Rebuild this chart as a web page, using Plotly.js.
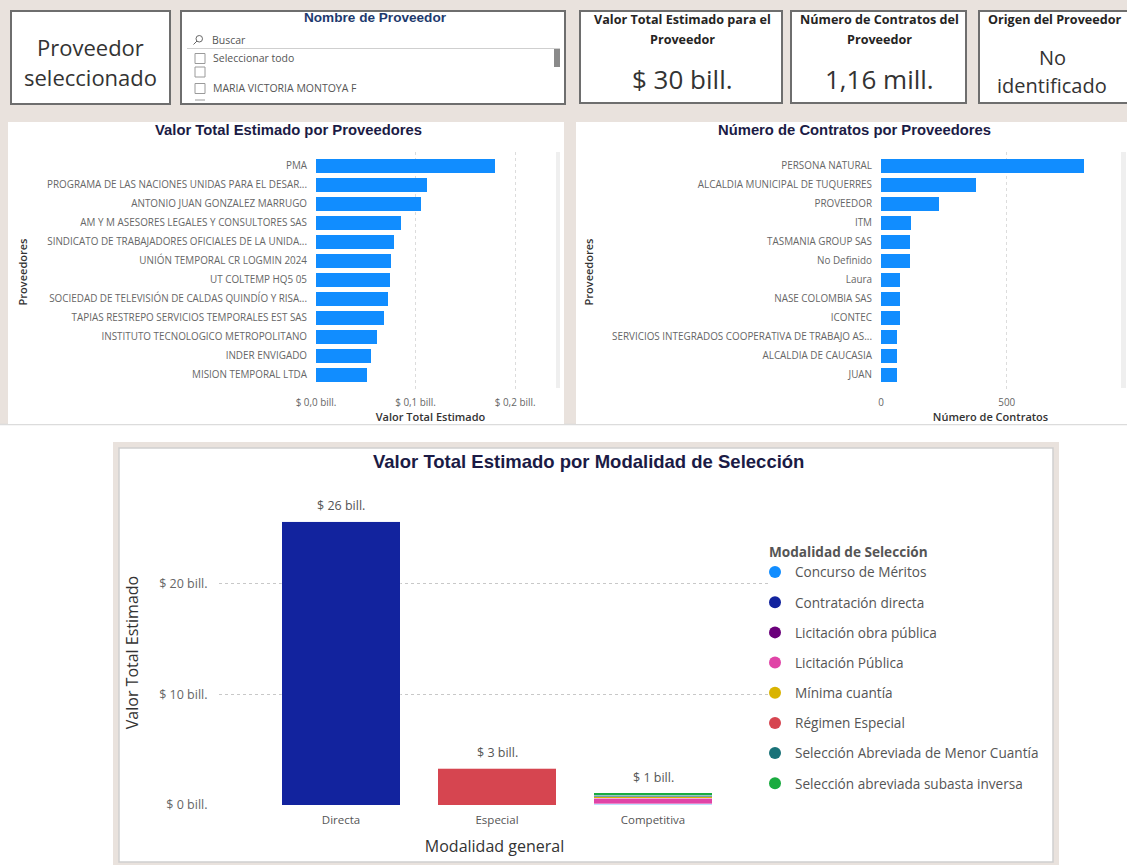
<!DOCTYPE html>
<html>
<head>
<meta charset="utf-8">
<script src="https://cdn.plot.ly/plotly-3.0.1.min.js"></script>
<style>html,body{margin:0;padding:0;background:#fff;}#chart{width:1127px;height:865px;}</style>
</head>
<body>
<div id="chart"></div>
<script>
// ---------------- DATA ----------------
const proveedoresValor = ['PMA', 'PROGRAMA DE LAS NACIONES UNIDAS PARA EL DESAR...', 'ANTONIO JUAN GONZALEZ MARRUGO',
  'AM Y M ASESORES LEGALES Y CONSULTORES SAS', 'SINDICATO DE TRABAJADORES OFICIALES DE LA UNIDA...',
  'UNIÓN TEMPORAL CR LOGMIN 2024', 'UT COLTEMP HQ5 05', 'SOCIEDAD DE TELEVISIÓN DE CALDAS QUINDÍO Y RISA...',
  'TAPIAS RESTREPO SERVICIOS TEMPORALES EST SAS', 'INSTITUTO TECNOLOGICO METROPOLITANO', 'INDER ENVIGADO', 'MISION TEMPORAL LTDA'];
const valorTotalBill = [0.180, 0.111, 0.105, 0.085, 0.078, 0.075, 0.074, 0.072, 0.068, 0.061, 0.055, 0.051];

const proveedoresContratos = ['PERSONA NATURAL', 'ALCALDIA MUNICIPAL DE TUQUERRES', 'PROVEEDOR', 'ITM', 'TASMANIA GROUP SAS',
  'No Definido', 'Laura', 'NASE COLOMBIA SAS', 'ICONTEC', 'SERVICIOS INTEGRADOS COOPERATIVA DE TRABAJO AS...',
  'ALCALDIA DE CAUCASIA', 'JUAN'];
const numeroContratos = [808, 379, 232, 119, 116, 115, 76, 75, 74, 64, 63, 63];

const modalidadGeneral = ['Directa', 'Especial', 'Competitiva'];
const modalidadesSeleccion = ['Concurso de Méritos', 'Contratación directa', 'Licitación obra pública', 'Licitación Pública',
  'Mínima cuantía', 'Régimen Especial', 'Selección Abreviada de Menor Cuantía', 'Selección abreviada subasta inversa'];
const concursoMeritos   = [0, 0, 0.08];
const contratacionDirecta = [25.7, 0, 0];
const licitacionObra    = [0, 0, 0.03];
const licitacionPublica = [0, 0, 0.48];
const minimaCuantia     = [0, 0, 0.16];
const regimenEspecial   = [0, 3.32, 0];
const seleccionMenor    = [0, 0, 0.12];
const subastaInversa    = [0, 0, 0.23];
const coloresModalidad = ['#118DFF', '#12239E', '#6B007B', '#E044A7', '#D9B300', '#D64550', '#197278', '#1AAB40'];

const numeroContratosProveedorMill = 1.16;
const origenProveedor = 'No identificado';

// ---------------- HELPERS ----------------
const W = 1127, H = 865;
const X = p => p / W;
const Y = p => 1 - p / H;
const SEG = '"Open Sans", "Noto Sans", sans-serif';
const ARB = '"Liberation Sans", Arial, sans-serif';
const BEIGE = '#E9E2DD';

function rect(x0, y0, x1, y1, fill, lineColor, lw) {
  return {type: 'rect', xref: 'paper', yref: 'paper', x0: X(x0), x1: X(x1), y0: Y(y1), y1: Y(y0),
    fillcolor: fill, line: {color: lineColor || 'rgba(0,0,0,0)', width: lw || 0}, layer: 'below'};
}
function line(x0, y0, x1, y1, color, lw) {
  return {type: 'line', xref: 'paper', yref: 'paper', x0: X(x0), x1: X(x1), y0: Y(y0), y1: Y(y1),
    line: {color: color, width: lw}, layer: 'below'};
}
function txt(x, y, text, size, color, opt) {
  opt = opt || {};
  return {xref: 'paper', yref: 'paper', x: X(x), y: Y(y), text: text, showarrow: false,
    xanchor: opt.xanchor || 'center', yanchor: 'middle',
    font: {family: opt.family || SEG, size: size, color: color, weight: opt.weight || 400}};
}

// ---------------- SHAPES ----------------
const shapes = [
  rect(0, 0, W, 424, BEIGE),
  line(0, 424.5, W, 424.5, '#dcdcdc', 1.5),
  // KPI cards
  rect(11, 11, 170, 104, '#fff', '#6e6e6e', 2),
  rect(181, 11, 565, 104, '#fff', '#6e6e6e', 2),
  rect(580, 11, 782, 103, '#fff', '#6e6e6e', 2),
  rect(791, 11, 966, 103, '#fff', '#6e6e6e', 2),
  rect(979, 11, 1140, 103, '#fff', '#6e6e6e', 2),
  // slicer details
  line(187, 48.5, 560, 48.5, '#cfcfcf', 1),
  rect(554, 49, 560, 67, '#8a8a8a'),
  {type: 'circle', xref: 'paper', yref: 'paper', x0: X(196), x1: X(202.5), y0: Y(42), y1: Y(35.5),
    line: {color: '#666', width: 1}, layer: 'below'},
  line(197, 41, 193.5, 44.5, '#666', 1),
  rect(195, 53.5, 205, 63.5, '#fff', '#9a9a9a', 1),
  rect(195, 67, 205, 77, '#fff', '#9a9a9a', 1),
  rect(195, 83.5, 205, 93.5, '#fff', '#9a9a9a', 1),
  line(195, 100, 205, 100, '#9a9a9a', 1),
  // chart panels
  rect(8, 122, 564, 424, '#fff'),
  rect(576, 122, W, 424, '#fff'),
  rect(556, 152, 560, 388, '#efefef'),
  rect(1121, 152, 1126, 388, '#efefef'),
  rect(113, 442, 1059, 865, BEIGE),
  rect(119, 448, 1053, 862, '#fff', '#cfcfcf', 1.5)
];

// ---------------- ANNOTATIONS ----------------
const series = [concursoMeritos, contratacionDirecta, licitacionObra, licitacionPublica, minimaCuantia, regimenEspecial, seleccionMenor, subastaInversa];
const totalPorCategoria = modalidadGeneral.map((c, i) => series.reduce((s, arr) => s + arr[i], 0));
const totalGeneral = totalPorCategoria.reduce((a, b) => a + b, 0);

const annotations = [
  txt(90.5, 47, 'Proveedor', 22, '#333'),
  txt(90.5, 77, 'seleccionado', 22, '#333'),
  txt(375, 18, 'Nombre de Proveedor', 13.6, '#1E3A6E', {family: ARB, weight: 700}),
  txt(210, 40, 'Buscar', 10.5, '#555', {xanchor: 'left'}),
  txt(211, 58.5, 'Seleccionar todo', 10.5, '#555', {xanchor: 'left'}),
  txt(211, 88.5, 'MARIA VICTORIA MONTOYA F', 10.5, '#555', {xanchor: 'left'}),
  txt(682, 20, 'Valor Total Estimado para el', 12.6, '#252423', {weight: 700}),
  txt(682, 40, 'Proveedor', 12.6, '#252423', {weight: 700}),
  txt(682, 79, '$ ' + Math.round(totalGeneral) + ' bill.', 26, '#333'),
  txt(879, 20, 'Número de Contratos del', 12.6, '#252423', {weight: 700}),
  txt(879, 40, 'Proveedor', 12.6, '#252423', {weight: 700}),
  txt(879, 79, numeroContratosProveedorMill.toFixed(2).replace('.', ',') + ' mill.', 26, '#333'),
  txt(986, 20, 'Origen del Proveedor', 12.6, '#252423', {weight: 700, xanchor: 'left'}),
  txt(1052, 58, origenProveedor.split(' ')[0], 20, '#333'),
  txt(1052, 85, origenProveedor.split(' ')[1], 20, '#333'),
  txt(288, 130, 'Valor Total Estimado por Proveedores', 14.8, '#1B1B45', {family: ARB, weight: 700}),
  txt(854, 130, 'Número de Contratos por Proveedores', 14.8, '#1B1B45', {family: ARB, weight: 700}),
  txt(588, 461, 'Valor Total Estimado por Modalidad de Selección', 18.5, '#1B1B45', {family: ARB, weight: 700})
];
modalidadGeneral.forEach((c, i) => {
  annotations.push({xref: 'x3', yref: 'y3', x: c, y: totalPorCategoria[i], text: '$ ' + Math.round(totalPorCategoria[i]) + ' bill.',
    showarrow: false, yanchor: 'bottom', yshift: 5, font: {family: SEG, size: 12.5, color: '#555'}});
});

// ---------------- TRACES ----------------
const traces = [
  {type: 'bar', orientation: 'h', y: proveedoresValor, x: valorTotalBill, xaxis: 'x', yaxis: 'y',
    marker: {color: '#118DFF'}, width: 0.74, showlegend: false},
  {type: 'bar', orientation: 'h', y: proveedoresContratos, x: numeroContratos, xaxis: 'x2', yaxis: 'y2',
    marker: {color: '#118DFF'}, width: 0.74, showlegend: false}
];
modalidadesSeleccion.forEach((m, k) => {
  traces.push({type: 'bar', name: m, x: modalidadGeneral, y: series[k], xaxis: 'x3', yaxis: 'y3', width: 0.757,
    marker: {color: coloresModalidad[k], line: {color: 'rgba(255,255,255,0.35)', width: 1}}, showlegend: false});
});
modalidadesSeleccion.forEach((m, k) => {
  traces.push({type: 'scatter', mode: 'markers', name: m, x: [null], y: [null], xaxis: 'x3', yaxis: 'y3',
    legendgroup: 'g' + k, marker: {color: coloresModalidad[k], size: 12, symbol: 'circle'}, showlegend: true});
});

const tickFont = {family: SEG, size: 9.9, color: '#666'};
const catTicks = {type: 'category', showgrid: false, zeroline: false, showline: false, ticks: 'outside', ticklen: 6,
  tickcolor: 'rgba(0,0,0,0)', tickfont: tickFont, range: [11.912, -0.738]};
const axTitleFont = {family: SEG, size: 11, color: '#333', weight: 600};

const layout = {
  width: W, height: H, margin: {l: 0, r: 0, t: 0, b: 0},
  paper_bgcolor: '#fff', plot_bgcolor: 'rgba(0,0,0,0)',
  separators: ',.', barmode: 'stack', bargap: 0.25,
  shapes: shapes, annotations: annotations,
  xaxis: {domain: [X(316), X(545)], anchor: 'y', range: [0, 0.23], dtick: 0.1, tick0: 0, tickformat: '.1f',
    tickprefix: '$ ', ticksuffix: ' bill.', showgrid: true, gridcolor: '#dcdcdc', griddash: 'dot', zeroline: false,
    showline: false, ticks: 'outside', ticklen: 1, tickcolor: 'rgba(0,0,0,0)', tickfont: tickFont,
    title: {text: 'Valor Total Estimado', font: axTitleFont, standoff: 3}},
  yaxis: Object.assign({domain: [Y(392), Y(152)], anchor: 'x',
    title: {text: 'Proveedores', font: axTitleFont, standoff: 17}}, catTicks),
  xaxis2: {domain: [X(881), X(1100)], anchor: 'y2', range: [0, 871], dtick: 500, tick0: 0,
    showgrid: true, gridcolor: '#dcdcdc', griddash: 'dot', zeroline: false,
    showline: false, ticks: 'outside', ticklen: 1, tickcolor: 'rgba(0,0,0,0)', tickfont: tickFont,
    title: {text: 'Número de Contratos', font: axTitleFont, standoff: 3}},
  yaxis2: Object.assign({domain: [Y(392), Y(152)], anchor: 'x2',
    title: {text: 'Proveedores', font: axTitleFont, standoff: 16}}, catTicks),
  xaxis3: {domain: [X(219), X(770)], anchor: 'y3', type: 'category', range: [-0.782, 2.75],
    showgrid: false, zeroline: false, showline: false, ticks: 'outside', ticklen: 4, tickcolor: 'rgba(0,0,0,0)',
    tickfont: {family: SEG, size: 11.5, color: '#555'},
    title: {text: 'Modalidad general', font: {family: SEG, size: 16, color: '#333'}, standoff: 15}},
  yaxis3: {domain: [Y(805), Y(500)], anchor: 'x3', range: [0, 27.6], dtick: 10, tick0: 0,
    tickprefix: '$ ', ticksuffix: ' bill.', showgrid: true, gridcolor: '#c8c8c8', griddash: 'dot', zeroline: false,
    showline: false, ticks: 'outside', ticklen: 8, tickcolor: 'rgba(0,0,0,0)',
    tickfont: {family: SEG, size: 12.5, color: '#666'},
    title: {text: 'Valor Total Estimado', font: {family: SEG, size: 16, color: '#333'}, standoff: 16}},
  showlegend: true,
  legend: {x: X(767), y: Y(539), xanchor: 'left', yanchor: 'top', bgcolor: 'rgba(0,0,0,0)',
    traceorder: 'grouped', tracegroupgap: 9.5, indentation: -12,
    font: {family: SEG, size: 13.6, color: '#555'},
    title: {text: '<b>Modalidad de Selección</b>', font: {family: SEG, size: 13.6, color: '#555'}}}
};

Plotly.newPlot('chart', traces, layout, {displayModeBar: false, staticPlot: true});
</script>
</body>
</html>
